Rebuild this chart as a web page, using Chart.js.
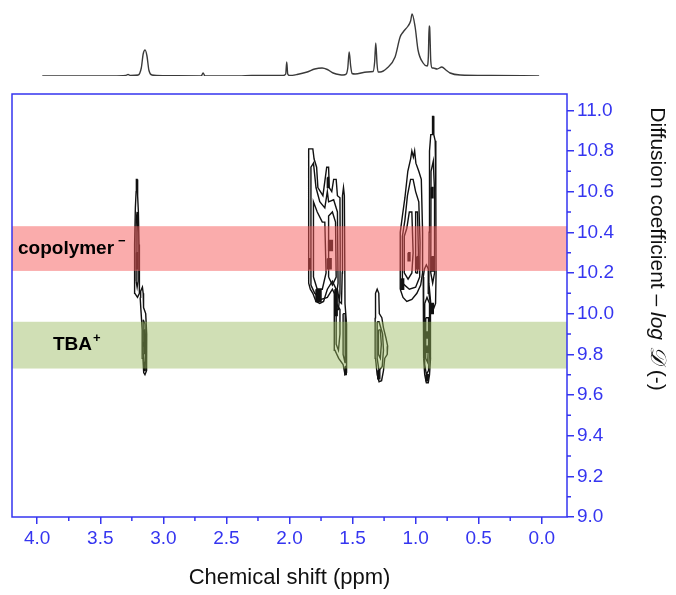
<!DOCTYPE html>
<html>
<head>
<meta charset="utf-8">
<script src="https://cdn.jsdelivr.net/npm/chart.js@4.4.1/dist/chart.umd.min.js"></script>
<style>
  html, body { margin: 0; padding: 0; background: #fff; }
  #wrap { position: relative; width: 676px; height: 595px; }
  #wrap canvas { position: absolute; left: 0; top: 0; }
</style>
</head>
<body>
<div id="wrap">
  <canvas id="dosy" width="676" height="595"></canvas>
  <canvas id="spec" width="676" height="92"></canvas>
</div>
<script>
// Achsen (ppm umgekehrt, log D rechts)
const xRange = [-0.2, 4.2];
const yRange = [9.0, 11.08];
const xTickValues = [4.0, 3.5, 3.0, 2.5, 2.0, 1.5, 1.0, 0.5, 0.0];
const xMinorValues = [3.75, 3.25, 2.75, 2.25, 1.75, 1.25, 0.75, 0.25];
const yTickValues = [9.0, 9.2, 9.4, 9.6, 9.8, 10.0, 10.2, 10.4, 10.6, 10.8, 11.0];
const yMinorValues = [9.1, 9.3, 9.5, 9.7, 9.9, 10.1, 10.3, 10.5, 10.7, 10.9];

// Baender: copolymer / TBA
const bandNames = ['copolymer', 'TBA'];
const bandCharges = ['\u2212', '+'];
const bandLow = [10.21, 9.73];
const bandHigh = [10.43, 9.96];

// 1H-Spektrum oben
const spectrumShift = [3.96, 3.40, 3.30, 3.28, 3.26, 3.20, 3.175, 3.16, 3.145, 3.13, 3.115, 3.09, 3.00,
  2.70, 2.685, 2.67, 2.40, 2.30, 2.05, 2.03, 2.022, 2.014, 2.00, 1.94, 1.86, 1.80, 1.742, 1.70, 1.654,
  1.60, 1.575, 1.55, 1.538, 1.527, 1.515, 1.504, 1.48, 1.385, 1.337, 1.325, 1.316, 1.306, 1.298, 1.282,
  1.226, 1.163, 1.123, 1.099, 1.060, 1.040, 1.028, 1.004, 0.981, 0.941, 0.909, 0.899, 0.893, 0.889,
  0.880, 0.869, 0.861, 0.830, 0.792, 0.760, 0.727, 0.647, 0.40, 0.021];
const spectrumIntensity = [0, 0, 0.5, 1.5, 0.5, 1, 8, 22, 26, 20, 6, 1, 0.3,
  0, 3, 0, 0, 0.5, 0.5, 2, 14, 2, 0.5, 1.5, 4, 7, 8, 6.5, 3,
  1.2, 1, 2, 8, 24, 10, 2.5, 2, 4, 4.5, 14, 33, 12, 4, 4,
  8, 19, 39, 44, 50, 55, 62, 49, 26, 13, 10, 20, 50, 49,
  15, 8, 8, 7, 9, 6, 3, 1, 0.5, 0];

// Konturen [ppm, logD]
const copo320Lines = [
  [[3.226,10.10],[3.228,10.34],[3.222,10.52],[3.216,10.60],[3.214,10.66],[3.208,10.66],[3.204,10.58],[3.198,10.50],[3.193,10.34],[3.190,10.10],[3.205,10.08]],
  [[3.216,10.16],[3.216,10.46],[3.208,10.50],[3.202,10.40],[3.200,10.16],[3.208,10.13]]
];
const tba315Lines = [
  [[3.184,10.08],[3.180,10.11],[3.166,10.13],[3.160,10.10],[3.157,10.03],[3.140,10.00],[3.132,9.90],[3.130,9.78],[3.136,9.72],[3.146,9.70],[3.156,9.71],[3.162,9.78],[3.168,9.92],[3.176,10.00]],
  [[3.160,9.97],[3.146,9.95],[3.140,9.84],[3.142,9.76],[3.152,9.74],[3.158,9.80],[3.160,9.90]],
  [[3.154,9.92],[3.148,9.92],[3.146,9.82],[3.152,9.80]]
];
const copo170Lines = [
  [[1.848,10.15],[1.848,10.81],[1.815,10.81],[1.805,10.76],[1.785,10.72],[1.775,10.62],[1.735,10.58],[1.705,10.72],[1.690,10.72],[1.685,10.62],[1.665,10.60],[1.650,10.66],[1.630,10.66],[1.620,10.58],[1.600,10.57],[1.598,10.30],[1.600,10.10],[1.612,10.02],[1.625,10.02],[1.630,10.12],[1.660,10.16],[1.700,10.12],[1.730,10.06],[1.760,10.05],[1.790,10.06],[1.815,10.10],[1.835,10.12]],
  [[1.830,10.14],[1.830,10.72],[1.810,10.74],[1.790,10.62],[1.760,10.55],[1.720,10.52],[1.700,10.60],[1.690,10.55],[1.650,10.56],[1.620,10.50],[1.615,10.15],[1.630,10.08],[1.660,10.12],[1.700,10.08],[1.750,10.07],[1.800,10.10]],
  [[1.810,10.18],[1.810,10.55],[1.780,10.50],[1.740,10.45],[1.720,10.45],[1.710,10.20],[1.740,10.12],[1.780,10.12]],
  [[1.690,10.18],[1.690,10.48],[1.660,10.50],[1.635,10.45],[1.630,10.18],[1.660,10.14]]
];
const tba155Lines = [
  [[1.645,10.10],[1.620,10.12],[1.605,10.06],[1.588,10.05],[1.582,10.20],[1.580,10.58],[1.572,10.62],[1.565,10.58],[1.560,10.05],[1.548,9.95],[1.545,9.78],[1.550,9.71],[1.560,9.70],[1.575,9.75],[1.610,9.78],[1.640,9.82],[1.645,9.95]],
  [[1.630,10.05],[1.630,9.85],[1.612,9.82],[1.600,9.90],[1.600,10.02]],
  [[1.575,10.00],[1.575,9.80],[1.560,9.76],[1.556,9.85],[1.560,10.00]]
];
const tba128Lines = [
  [[1.320,9.98],[1.318,10.10],[1.305,10.12],[1.292,10.10],[1.288,10.00],[1.268,9.98],[1.255,9.93],[1.235,9.88],[1.222,9.84],[1.225,9.80],[1.245,9.78],[1.255,9.72],[1.270,9.67],[1.290,9.665],[1.305,9.70],[1.318,9.78],[1.322,9.90]],
  [[1.305,9.96],[1.290,9.96],[1.262,9.90],[1.255,9.82],[1.265,9.74],[1.290,9.72],[1.305,9.78]],
  [[1.295,9.92],[1.280,9.92],[1.272,9.85],[1.280,9.78],[1.295,9.80]]
];
const copo105Lines = [
  [[1.122,10.12],[1.122,10.40],[1.105,10.48],[1.085,10.57],[1.062,10.70],[1.040,10.76],[1.030,10.80],[1.018,10.77],[1.008,10.80],[0.998,10.74],[0.975,10.70],[0.955,10.66],[0.945,10.40],[0.945,10.20],[0.960,10.14],[0.990,10.10],[1.030,10.07],[1.070,10.06],[1.100,10.08]],
  [[1.105,10.15],[1.105,10.38],[1.085,10.46],[1.065,10.58],[1.040,10.66],[1.020,10.66],[1.000,10.60],[0.975,10.55],[0.965,10.35],[0.968,10.18],[1.000,10.13],[1.050,10.12]],
  [[1.090,10.20],[1.090,10.38],[1.070,10.42],[1.050,10.50],[1.030,10.50],[1.020,10.30],[1.030,10.20],[1.060,10.17]],
  [[1.000,10.20],[1.000,10.50],[0.985,10.50],[0.978,10.30],[0.985,10.20]]
];
const copo085Lines = [
  [[0.895,10.15],[0.893,10.40],[0.890,10.80],[0.880,10.88],[0.868,10.88],[0.866,10.97],[0.858,10.97],[0.856,10.88],[0.845,10.85],[0.840,10.60],[0.838,10.20],[0.842,10.05],[0.860,10.02],[0.880,10.05]],
  [[0.880,10.20],[0.878,10.70],[0.860,10.75],[0.850,10.60],[0.850,10.20],[0.865,10.15]]
];
const tba090Lines = [
  [[0.940,10.18],[0.938,9.95],[0.935,9.78],[0.928,9.70],[0.915,9.66],[0.900,9.66],[0.890,9.70],[0.882,9.78],[0.880,9.95],[0.885,10.05],[0.895,10.10],[0.900,10.22],[0.915,10.24],[0.930,10.22]],
  [[0.928,10.05],[0.928,9.75],[0.915,9.70],[0.898,9.72],[0.890,9.80],[0.890,10.05],[0.910,10.08]],
  [[0.920,9.98],[0.920,9.78],[0.905,9.76],[0.898,9.85],[0.898,9.98]]
];
// dichte Konturkerne (gefuellt)
const denseCores = [
  [[3.214,10.30],[3.204,10.30],[3.204,10.22],[3.214,10.22]],
  [[3.156,9.76],[3.144,9.76],[3.144,9.72],[3.156,9.72]],
  [[3.158,9.86],[3.146,9.86],[3.146,9.84],[3.158,9.84]],
  [[1.690,10.36],[1.660,10.36],[1.660,10.31],[1.690,10.31]],
  [[1.700,10.27],[1.670,10.27],[1.670,10.22],[1.700,10.22]],
  [[1.845,10.27],[1.835,10.27],[1.835,10.22],[1.845,10.22]],
  [[1.790,10.12],[1.750,10.12],[1.750,10.06],[1.790,10.06]],
  [[1.700,10.67],[1.690,10.67],[1.690,10.62],[1.700,10.62]],
  [[1.640,10.12],[1.622,10.12],[1.622,9.99],[1.640,9.99]],
  [[1.560,9.74],[1.550,9.74],[1.550,9.70],[1.560,9.70]],
  [[1.300,9.72],[1.284,9.72],[1.284,9.68],[1.300,9.68]],
  [[1.115,10.17],[1.095,10.17],[1.095,10.12],[1.115,10.12]],
  [[0.992,10.28],[0.976,10.28],[0.976,10.22],[0.992,10.22]],
  [[1.060,10.30],[1.045,10.30],[1.045,10.26],[1.060,10.26]],
  [[0.876,10.28],[0.852,10.28],[0.852,10.21],[0.876,10.21]],
  [[0.876,10.62],[0.862,10.62],[0.862,10.57],[0.876,10.57]],
  [[0.876,10.05],[0.860,10.05],[0.860,10.00],[0.876,10.00]],
  [[0.926,9.91],[0.894,9.91],[0.894,9.88],[0.926,9.88]],
  [[0.926,9.84],[0.894,9.84],[0.894,9.81],[0.926,9.81]],
  [[0.918,9.70],[0.900,9.70],[0.900,9.67],[0.918,9.67]]
];

const axisBlue = '#3535f0';
const fontFam = '"Liberation Sans", Arial, sans-serif';
const bandColors = ['rgba(245, 90, 90, 0.5)', 'rgba(150, 185, 90, 0.45)'];

function ring(poly, filled) {
  const pts = poly.map(p => ({ x: p[0], y: p[1] }));
  pts.push({ x: poly[0][0], y: poly[0][1] });
  return {
    data: pts,
    showLine: true,
    borderColor: '#111',
    borderWidth: 1.4,
    backgroundColor: '#111',
    pointRadius: 0,
    fill: filled ? 'shape' : false,
    tension: 0
  };
}

const allLines = [].concat(copo320Lines, tba315Lines, copo170Lines, tba155Lines,
  tba128Lines, copo105Lines, copo085Lines, tba090Lines);
const datasets = allLines.map(p => ring(p, false)).concat(denseCores.map(p => ring(p, true)));

const decor = {
  id: 'decor',
  afterDatasetsDraw(chart) {
    const { ctx, chartArea: a, scales } = chart;
    ctx.save();
    bandNames.forEach((name, i) => {
      const y1 = scales.y.getPixelForValue(bandHigh[i]);
      const y2 = scales.y.getPixelForValue(bandLow[i]);
      ctx.fillStyle = bandColors[i];
      ctx.fillRect(a.left, y1, a.right - a.left, y2 - y1);
    });
    // Beschriftung
    ctx.fillStyle = '#000';
    ctx.textBaseline = 'middle';
    const labelX = [18, 53];
    bandNames.forEach((name, i) => {
      const yc = scales.y.getPixelForValue((bandHigh[i] + bandLow[i]) / 2);
      ctx.font = 'bold 19px ' + fontFam;
      ctx.fillText(name, labelX[i], yc);
      const w = ctx.measureText(name).width;
      ctx.font = 'bold 13px ' + fontFam;
      ctx.fillText(bandCharges[i], labelX[i] + w + (i === 0 ? 4 : 1), yc - 7);
    });
    ctx.restore();
  },
  afterDraw(chart) {
    const { ctx, chartArea: a, scales } = chart;
    ctx.save();
    ctx.strokeStyle = axisBlue;
    ctx.lineWidth = 1.5;
    ctx.strokeRect(a.left, a.top, a.right - a.left, a.bottom - a.top);
    ctx.beginPath();
    xMinorValues.forEach(v => {
      const px = scales.x.getPixelForValue(v);
      ctx.moveTo(px, a.bottom);
      ctx.lineTo(px, a.bottom + 4);
    });
    yMinorValues.forEach(v => {
      const py = scales.y.getPixelForValue(v);
      ctx.moveTo(a.right, py);
      ctx.lineTo(a.right + 4, py);
    });
    ctx.stroke();
    // y-Titel mit kursivem Teil
    const parts = [
      ['Diffusion coefficient \u2013 ', '21px ' + fontFam],
      ['log', 'italic 21px ' + fontFam],
      [' ', '21px ' + fontFam],
      ['\uD835\uDC9F', 'italic 22px "DejaVu Serif", serif'],
      [' (-)', '21px ' + fontFam]
    ];
    let total = 0;
    parts.forEach(p => { ctx.font = p[1]; total += ctx.measureText(p[0]).width; });
    ctx.translate(657, 249);
    ctx.rotate(Math.PI / 2);
    ctx.fillStyle = '#111';
    ctx.textBaseline = 'middle';
    let x = -total / 2;
    parts.forEach(p => {
      ctx.font = p[1];
      ctx.fillText(p[0], x, 0);
      x += ctx.measureText(p[0]).width;
    });
    ctx.restore();
  }
};

new Chart(document.getElementById('dosy'), {
  type: 'scatter',
  data: { datasets: datasets },
  options: {
    responsive: false,
    animation: false,
    layout: { padding: { left: 12, top: 94, right: 0, bottom: 0 } },
    plugins: { legend: { display: false }, tooltip: { enabled: false } },
    scales: {
      x: {
        type: 'linear',
        min: xRange[0],
        max: xRange[1],
        reverse: true,
        afterBuildTicks: s => { s.ticks = xTickValues.map(v => ({ value: v })); },
        afterFit: s => { s.height = 78; },
        border: { display: false },
        grid: { drawOnChartArea: false, drawTicks: true, tickLength: 7, color: axisBlue, lineWidth: 1.5 },
        ticks: { color: axisBlue, font: { size: 19, family: fontFam }, padding: 3, maxRotation: 0,
          callback: v => v.toFixed(1) },
        title: { display: true, text: 'Chemical shift (ppm)', color: '#111',
          font: { size: 22, family: fontFam }, padding: { top: 4, bottom: 4 } }
      },
      y: {
        type: 'linear',
        position: 'right',
        min: yRange[0],
        max: yRange[1],
        afterBuildTicks: s => { s.ticks = yTickValues.map(v => ({ value: v })); },
        afterFit: s => { s.width = 109; },
        border: { display: false },
        grid: { drawOnChartArea: false, drawTicks: true, tickLength: 7, color: axisBlue, lineWidth: 1.5 },
        ticks: { color: axisBlue, font: { size: 19, family: fontFam }, padding: 3,
          callback: v => v.toFixed(1) }
      }
    }
  },
  plugins: [decor]
});

new Chart(document.getElementById('spec'), {
  type: 'scatter',
  data: {
    datasets: [{
      data: spectrumShift.map((s, i) => ({ x: s, y: spectrumIntensity[i] })),
      showLine: true,
      borderColor: '#3a3a3a',
      borderWidth: 1.4,
      pointRadius: 0,
      cubicInterpolationMode: 'monotone'
    }]
  },
  options: {
    responsive: false,
    animation: false,
    layout: { padding: { left: 12, right: 109, top: 8, bottom: 16 } },
    plugins: { legend: { display: false }, tooltip: { enabled: false } },
    scales: {
      x: { type: 'linear', display: false, min: xRange[0], max: xRange[1], reverse: true },
      y: { type: 'linear', display: false, min: 0, max: 68 }
    }
  }
});
</script>
</body>
</html>
